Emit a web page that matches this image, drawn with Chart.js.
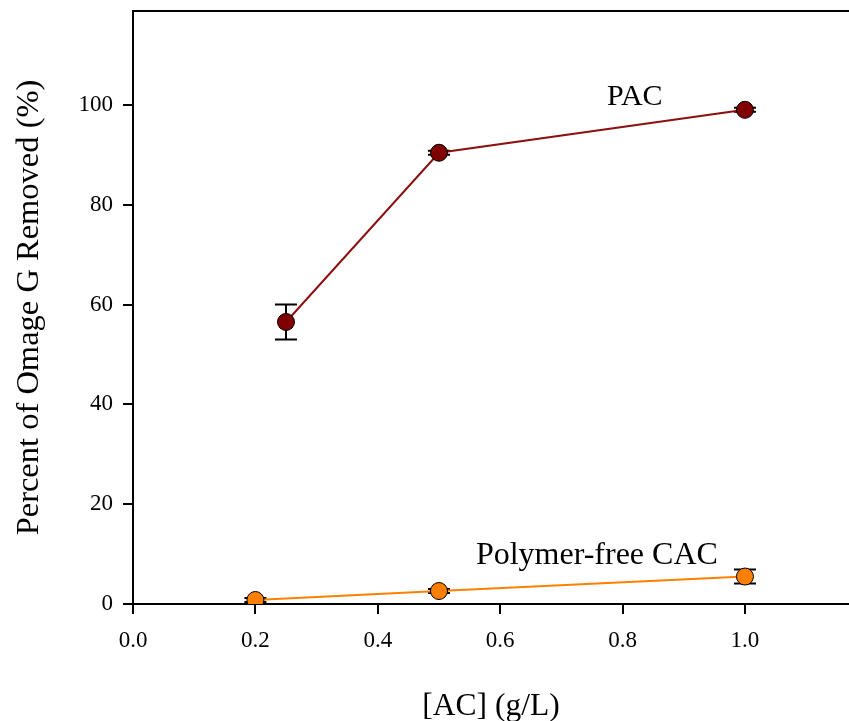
<!DOCTYPE html>
<html>
<head>
<meta charset="utf-8">
<script src="https://cdn.jsdelivr.net/npm/chart.js@4/dist/chart.umd.min.js"></script>
<style>
  html, body { margin: 0; padding: 0; background: #fff; }
  #wrap { width: 849px; height: 721px; }
</style>
</head>
<body>
<div id="wrap"><canvas id="canvas" width="849" height="721"></canvas></div>
<script>
// AC dose (g/L) and percent of dye removed, with error bars
const pacDose = [0.25, 0.5, 1.0];
const pacRemoved = [56.5, 90.4, 99.0];
const pacErr = [3.5, 0.4, 0.4];

const cacDose = [0.2, 0.5, 1.0];
const cacRemoved = [0.8, 2.6, 5.5];
const cacErr = [0.4, 0.4, 1.4];

const yTicks = [0, 20, 40, 60, 80, 100];
const xTicks = [0.0, 0.2, 0.4, 0.6, 0.8, 1.0];

const seriesLabels = [
    { text: 'PAC', x: 0.82, y: 101.5, size: 30 },
    { text: 'Polymer-free CAC', x: 0.758, y: 9.6, size: 32 },
];

const serif = "'Liberation Serif', 'Times New Roman', serif";

const toPoints = (xs, ys) => xs.map((x, i) => ({ x, y: ys[i] }));

const errorBars = {
    id: 'errorBars',
    beforeDatasetsDraw(chart) {
        const { ctx, scales: { x, y } } = chart;
        ctx.save();
        ctx.strokeStyle = '#000';
        ctx.lineWidth = 2;
        chart.data.datasets.forEach(ds => {
            ds.data.forEach((p, i) => {
                const e = ds.errors[i];
                const px = x.getPixelForValue(p.x);
                const top = y.getPixelForValue(p.y + e);
                const bot = y.getPixelForValue(p.y - e);
                ctx.beginPath();
                ctx.moveTo(px, top);
                ctx.lineTo(px, bot);
                ctx.moveTo(px - 11, top);
                ctx.lineTo(px + 11, top);
                ctx.moveTo(px - 11, bot);
                ctx.lineTo(px + 11, bot);
                ctx.stroke();
            });
        });
        ctx.restore();
    },
};

const frameAndLabels = {
    id: 'frameAndLabels',
    afterDraw(chart) {
        const { ctx, chartArea, scales: { x, y } } = chart;
        ctx.save();
        // top border of the frame
        ctx.strokeStyle = '#000';
        ctx.lineWidth = 2;
        ctx.beginPath();
        ctx.moveTo(chartArea.left - 1, chartArea.top);
        ctx.lineTo(chartArea.right, chartArea.top);
        ctx.stroke();

        ctx.fillStyle = '#000';
        ctx.textAlign = 'center';
        ctx.textBaseline = 'middle';
        seriesLabels.forEach(l => {
            ctx.font = `${l.size}px ${serif}`;
            ctx.fillText(l.text, x.getPixelForValue(l.x), y.getPixelForValue(l.y));
        });
        ctx.restore();
    },
};

new Chart(document.getElementById('canvas'), {
    type: 'scatter',
    data: {
        datasets: [
            {
                label: 'PAC',
                data: toPoints(pacDose, pacRemoved),
                errors: pacErr,
                showLine: true,
                borderColor: '#8b1010',
                borderWidth: 2,
                pointRadius: 8.5,
                pointBackgroundColor: '#800000',
                pointBorderColor: '#000',
                pointBorderWidth: 1,
            },
            {
                label: 'Polymer-free CAC',
                data: toPoints(cacDose, cacRemoved),
                errors: cacErr,
                showLine: true,
                borderColor: '#ff8000',
                borderWidth: 2,
                pointRadius: 8.5,
                pointBackgroundColor: '#ff8000',
                pointBorderColor: '#000',
                pointBorderWidth: 1,
            },
        ],
    },
    plugins: [errorBars, frameAndLabels],
    options: {
        responsive: false,
        animation: false,
        layout: { autoPadding: false, padding: { top: 11, right: 0, bottom: 0, left: 0 } },
        plugins: {
            legend: { display: false },
            tooltip: { enabled: false },
        },
        scales: {
            x: {
                type: 'linear',
                min: 0,
                max: 1.17,
                afterFit: (scale) => {
                    scale.height = 117;
                    scale.paddingLeft = 0;
                    scale.paddingRight = 0;
                },
                afterBuildTicks: (scale) => { scale.ticks = xTicks.map(v => ({ value: v })); },
                border: { display: true, color: '#000', width: 2 },
                grid: { drawOnChartArea: false, drawTicks: true, tickLength: 10, color: '#000', lineWidth: 2 },
                ticks: {
                    color: '#000',
                    padding: 13,
                    font: { family: serif, size: 23 },
                    callback: (v) => Number(v).toFixed(1),
                },
                title: {
                    display: true,
                    text: '[AC] (g/L)',
                    color: '#000',
                    font: { family: serif, size: 31.5 },
                    padding: { top: 4, bottom: -5 },
                },
            },
            y: {
                min: 0,
                max: 118.8,
                afterFit: (scale) => {
                    scale.width = 133;
                    scale.paddingTop = 0;
                    scale.paddingBottom = 0;
                },
                afterBuildTicks: (scale) => { scale.ticks = yTicks.map(v => ({ value: v })); },
                border: { display: true, color: '#000', width: 2 },
                grid: { drawOnChartArea: false, drawTicks: true, tickLength: 10, color: '#000', lineWidth: 2 },
                ticks: {
                    color: '#000',
                    padding: 10,
                    font: { family: serif, size: 23 },
                },
                title: {
                    display: true,
                    text: 'Percent of Omage G Removed (%)',
                    color: '#000',
                    font: { family: serif, size: 32.5 },
                    padding: { top: 10, bottom: 10 },
                },
            },
        },
    },
});
</script>
</body>
</html>
